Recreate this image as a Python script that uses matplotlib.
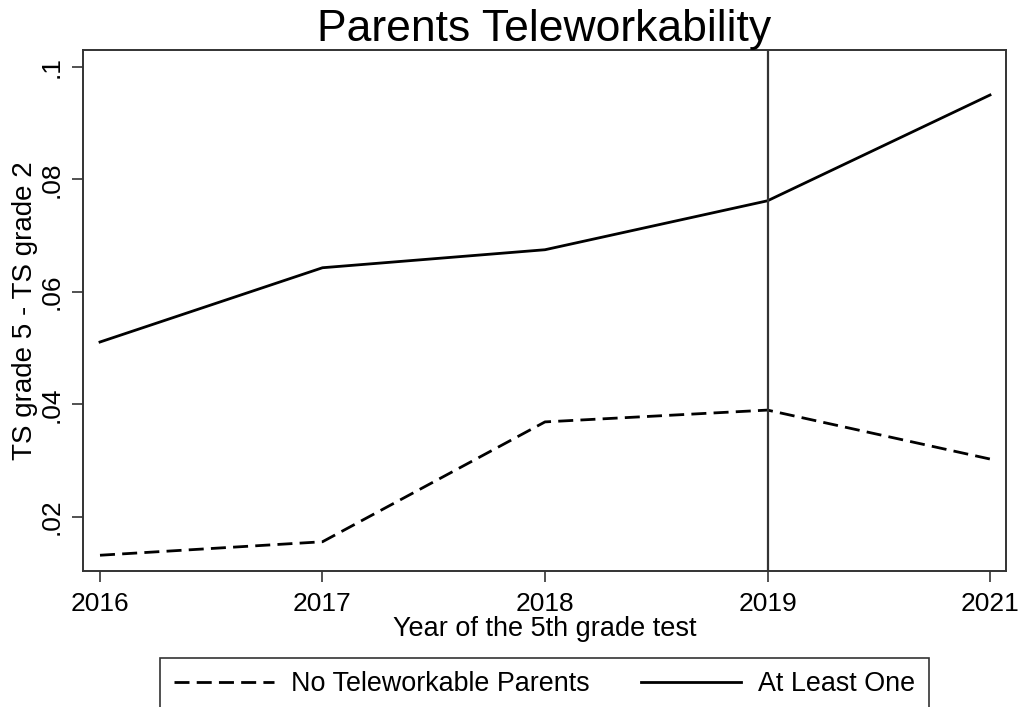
import matplotlib
matplotlib.use("Agg")
import matplotlib.pyplot as plt

years = ["2016", "2017", "2018", "2019", "2021"]
no_telework = [0.0132, 0.0156, 0.0369, 0.0390, 0.0303]
at_least_one = [0.0511, 0.0643, 0.0675, 0.0762, 0.0950]
yticks = [0.02, 0.04, 0.06, 0.08, 0.10]
ytick_labels = [".02", ".04", ".06", ".08", ".1"]
vline_year = "2019"

plt.rcParams['font.family'] = ['Liberation Sans', 'DejaVu Sans']

W, H = 1021, 707
fig = plt.figure(figsize=(W / 100, H / 100), dpi=100)
L, R, T, B = 83, 1006, 50, 571
ax = fig.add_axes([L / W, 1 - B / H, (R - L) / W, (B - T) / H])

x = list(range(len(years)))
ax.plot(x, no_telework, color='black', lw=2, linestyle=(0, (5.4, 2.6)),
        label="No Teleworkable Parents")
ax.plot(x, at_least_one, color='black', lw=2, label="At Least One")
ax.axvline(years.index(vline_year), color='#333333', lw=1.6)

ax.set_xlim(-0.0764, 4.0719)
ax.set_ylim(0.0104, 0.1030)
ax.set_xticks(x)
ax.set_xticklabels(years, fontsize=19)
ax.set_yticks(yticks)
ax.set_yticklabels(ytick_labels, fontsize=19, rotation=90, va='center')
ax.tick_params(axis='both', length=8, width=1.2, color='#333333')
ax.tick_params(axis='x', pad=7)
ax.tick_params(axis='y', pad=6)

for s in ax.spines.values():
    s.set_color('#333333')
    s.set_linewidth(1.4)

ax.set_title("Parents Teleworkability", fontsize=32, pad=2)
ax.set_xlabel("Year of the 5th grade test", fontsize=19.5, labelpad=0)
ax.set_ylabel("TS grade 5 - TS grade 2", fontsize=20, labelpad=1)

leg = fig.legend(loc='upper center', bbox_to_anchor=(544.5 / W, 1 - 658 / H),
                 borderaxespad=0, ncol=2, fontsize=19.4, frameon=True,
                 fancybox=False, edgecolor='black', handlelength=3.7,
                 borderpad=0.5, handletextpad=0.65, columnspacing=1.9)
leg.get_frame().set_linewidth(1.2)

fig.savefig("out.png", dpi=100)
